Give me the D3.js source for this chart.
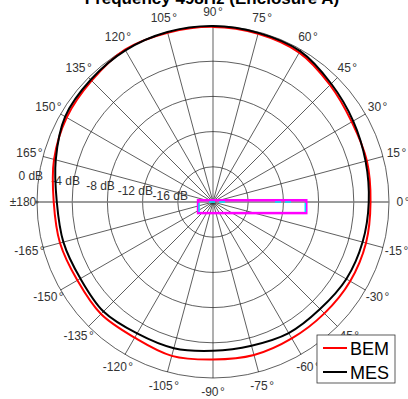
<!DOCTYPE html>
<html>
<head>
<meta charset="utf-8">
<script src="https://cdn.jsdelivr.net/npm/d3@7"></script>
<style>
    body { margin: 0; background: #fff; }
    svg { display: block; font-family: Arial, "Liberation Sans", sans-serif; }
</style>
</head>
<body>
<div id="chart"></div>
<script>
/* === Polar directivity plot, 498 Hz (D3.js v7) === */

// angles in degrees (counter-clockwise from the right)
var angles = [0, 15, 30, 45, 60, 75, 90, 105, 120, 135, 150, 165,
              180, -165, -150, -135, -120, -105, -90, -75, -60, -45, -30, -15];
var bemDb = [-2.1, -1.9, -1.8, -1.2, -0.4, -0.2, -0.1, -0.1, 0.0, -0.5, -0.8, -1.3,
             -1.9, -2.0, -2.2, -2.0, -2.2, -1.9, -2.1, -2.0, -2.1, -2.1, -2.0, -2.0];
var mesDb = [-2.3, -2.05, -1.6, -1.0, -0.2, -0.1, 0.0, 0.0, -0.1, -0.35, -0.6, -1.5,
             -2.25, -2.4, -2.6, -2.4, -2.75, -2.8, -3.1, -3.1, -2.8, -2.8, -2.5, -2.4];

var ringLevels = [0, -4, -8, -12, -16];
var ringLabels = ['0 dB', '-4 dB', '-8 dB', '-12 dB', '-16 dB'];
var spokeAngles = d3.range(0, 360, 15);
var angleLabels = ['0', '15', '30', '45', '60', '75', '90', '105', '120', '135', '150', '165',
                   '\u00b1180', '-165', '-150', '-135', '-120', '-105', '-90', '-75', '-60', '-45', '-30', '-15'];
var seriesNames = ['BEM', 'MES'];
var seriesColors = ['#ff0000', '#000000'];
var titleText = 'Frequency  498Hz (Enclosure A)';

var width = 408, height = 399;
var cx = 213, cy = 202, R = 176;

var svg = d3.select('#chart').append('svg')
    .attr('width', width)
    .attr('height', height);

var r = d3.scaleLinear().domain([-20, 0]).range([0, R]);

function px(deg, rad) { return cx + rad * Math.cos(deg * Math.PI / 180); }
function py(deg, rad) { return cy - rad * Math.sin(deg * Math.PI / 180); }

var g = svg.append('g');

// rings
g.selectAll('circle.ring')
    .data(ringLevels)
    .join('circle')
    .attr('class', 'ring')
    .attr('cx', cx).attr('cy', cy)
    .attr('r', function(d) { return r(d); })
    .attr('fill', 'none')
    .attr('stroke', '#1a1a1a')
    .attr('stroke-width', 0.7);

// spokes
g.selectAll('line.spoke')
    .data(spokeAngles.filter(function(a) { return a % 180 !== 0; }))
    .join('line')
    .attr('class', 'spoke')
    .attr('x1', cx).attr('y1', cy)
    .attr('x2', function(d) { return px(d, R); })
    .attr('y2', function(d) { return py(d, R); })
    .attr('stroke', '#1a1a1a')
    .attr('stroke-width', 0.7);

// horizontal axis
g.append('line')
    .attr('x1', px(180, R)).attr('y1', cy)
    .attr('x2', px(0, R)).attr('y2', cy)
    .attr('stroke', '#7a7a7a')
    .attr('stroke-width', 1.5);
g.append('circle')
    .attr('cx', px(180, R)).attr('cy', cy).attr('r', 1.6)
    .attr('fill', '#555');

// angle labels
var al = g.selectAll('text.alabel')
    .data(spokeAngles)
    .join('text')
    .attr('class', 'alabel')
    .attr('x', function(d) { return px(d, R + 14); })
    .attr('y', function(d) { return py(d, R + 14); })
    .attr('text-anchor', 'middle')
    .attr('dominant-baseline', 'central')
    .attr('font-size', 12)
    .attr('fill', '#333');
al.append('tspan').text(function(d, i) { return angleLabels[i]; });
al.filter(function(d) { return d !== 180; })
    .append('tspan').attr('dx', 1.5).text('\u00b0');

// ring labels
g.selectAll('text.rlabel')
    .data(ringLevels)
    .join('text')
    .attr('class', 'rlabel')
    .attr('x', function(d) { return px(172, r(d) + 8); })
    .attr('y', function(d) { return py(172, r(d) + 8); })
    .attr('text-anchor', 'middle')
    .attr('dominant-baseline', 'central')
    .attr('font-size', 12)
    .attr('fill', '#333')
    .text(function(d, i) { return ringLabels[i]; });

// enclosure sketch (in units of the plot radius)
var encl = { x0: -0.085, x1: 0.53, y0: -0.01, y1: 0.063 };
g.append('rect')
    .attr('x', cx + encl.x0 * R).attr('y', cy + encl.y0 * R)
    .attr('width', (encl.x1 - encl.x0) * R)
    .attr('height', (encl.y1 - encl.y0) * R)
    .attr('fill', 'none')
    .attr('stroke', '#ff00ff')
    .attr('stroke-width', 2.5);
g.append('path')
    .attr('d', 'M' + (cx + encl.x0 * R + 1) + ',' + (cy + 1) + 'v9')
    .attr('stroke', '#00e5ff').attr('stroke-width', 1.5);
g.append('path')
    .attr('d', 'M' + (cx + encl.x1 * R - 1) + ',' + (cy + 1) + 'v9')
    .attr('stroke', '#00e5ff').attr('stroke-width', 1.5);
g.append('path')
    .attr('d', 'M' + (cx - 4) + ',' + (cy) + 'H' + (cx + 16) +
               'M' + (cx + 62) + ',' + (cy) + 'H' + (cx + 82))
    .attr('stroke', '#00e5ff').attr('stroke-width', 1.5)
    .attr('stroke-dasharray', '6,4');

// data curves
var radial = d3.lineRadial()
    .angle(function(d) { return (90 - d.a) * Math.PI / 180; })
    .radius(function(d) { return r(d.v); })
    .curve(d3.curveCatmullRomClosed);

[bemDb, mesDb].forEach(function(vals, i) {
    var pts = angles.map(function(a, j) { return { a: a, v: vals[j] }; });
    g.append('path')
        .attr('transform', 'translate(' + cx + ',' + cy + ')')
        .attr('d', radial(pts))
        .attr('fill', 'none')
        .attr('stroke', seriesColors[i])
        .attr('stroke-width', 2);
});

// title
svg.append('text')
    .attr('x', 212).attr('y', 4)
    .attr('text-anchor', 'middle')
    .attr('font-size', 17)
    .attr('font-weight', 'bold')
    .attr('fill', '#000')
    .text(titleText);

// legend
var lg = svg.append('g').attr('transform', 'translate(317,335)');
lg.append('rect')
    .attr('width', 78).attr('height', 48)
    .attr('fill', '#fff')
    .attr('stroke', '#333')
    .attr('stroke-width', 0.8);
seriesNames.forEach(function(name, i) {
    var y = 13 + i * 24;
    lg.append('line')
        .attr('x1', 6).attr('x2', 30)
        .attr('y1', y).attr('y2', y)
        .attr('stroke', seriesColors[i])
        .attr('stroke-width', 2);
    lg.append('text')
        .attr('x', 33).attr('y', y + 7)
        .attr('font-size', 18)
        .attr('fill', '#000')
        .text(name);
});
</script>
</body>
</html>
